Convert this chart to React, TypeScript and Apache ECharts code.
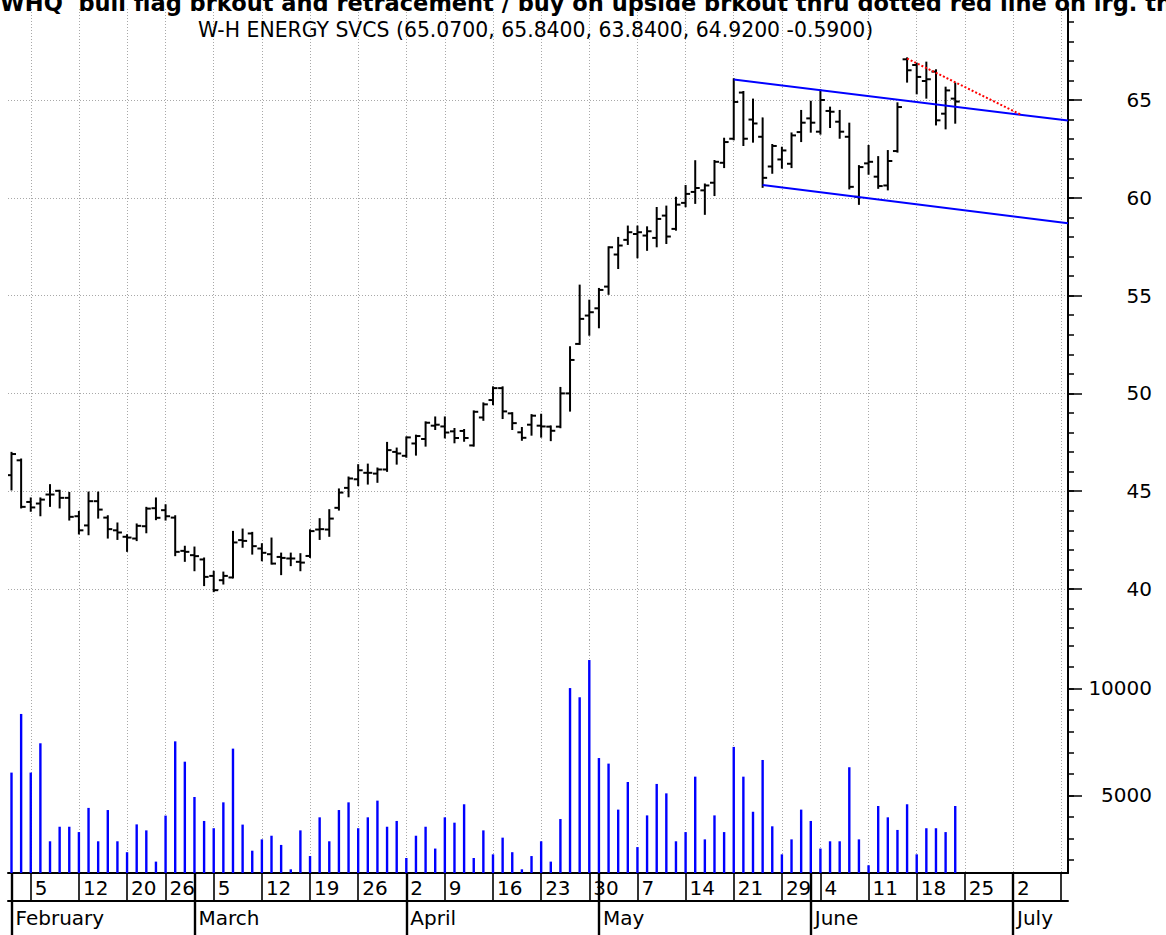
import React, { useEffect, useRef } from 'react';
import * as echarts from 'echarts';

// ---- data (trading-day index 0 = Feb 1) ----
const opens = [45.82, 46.58, 44.45, 44.37, 44.83, 45.02, 44.66, 43.72, 43.25, 44.49,
  43.65, 43.0, 42.67, 42.58, 43.21, 44.13, 44.03, 43.65, 41.95, 41.73,
  41.51, 40.67, 40.45, 40.59, 42.5, 42.84, 42.07, 41.78, 41.64, 41.56,
  41.39, 41.69, 43.04, 43.04, 44.15, 45.17, 45.61, 45.94, 45.9, 46.11,
  47.01, 46.81, 47.44, 47.67, 48.35, 48.31, 48.06, 48.08, 47.34, 48.77,
  49.66, 50.27, 48.98, 48.01, 48.4, 48.35, 48.3, 48.3, 50.0, 52.53,
  53.98, 54.35, 55.46, 57.1, 57.85, 58.15, 58.07, 57.95, 59.09, 58.41,
  59.74, 60.3, 60.38, 60.77, 61.79, 63.02, 65.38, 64.0, 63.12, 61.6,
  61.96, 61.74, 63.36, 64.06, 63.38, 64.44, 63.89, 63.12, 60.05, 61.76,
  61.08, 60.63, 62.39, 67.08, 66.79, 65.97, 66.45, 64.3, 65.07];
const highs = [46.96, 46.62, 44.63, 44.63, 45.31, 45.02, 44.91, 43.94, 44.93, 44.93,
  43.72, 43.35, 42.75, 43.3, 44.15, 44.63, 44.28, 43.72, 42.16, 42.12,
  41.56, 40.88, 40.84, 42.92, 43.04, 42.87, 42.29, 42.58, 41.81, 41.81,
  41.78, 43.0, 43.57, 44.03, 45.09, 45.7, 46.33, 46.36, 46.16, 47.47,
  47.18, 47.75, 47.84, 48.52, 48.77, 48.77, 48.18, 48.13, 49.08, 49.49,
  50.31, 50.31, 48.99, 48.23, 48.89, 48.91, 48.31, 50.28, 52.36, 55.51,
  54.74, 55.34, 57.47, 57.95, 58.53, 58.53, 58.49, 59.48, 59.55, 60.0,
  60.6, 61.87, 60.68, 61.88, 63.02, 66.06, 65.41, 65.02, 64.06, 62.7,
  62.56, 63.29, 64.44, 64.91, 65.49, 64.61, 64.44, 63.79, 61.62, 62.65,
  62.08, 62.39, 64.83, 67.13, 66.86, 66.91, 66.52, 65.63, 65.84];
const lows = [45.09, 44.17, 44.0, 43.77, 44.25, 44.17, 43.55, 42.84, 42.8, 43.65,
  42.63, 42.56, 41.95, 42.5, 42.9, 43.57, 43.55, 41.73, 41.44, 40.96,
  40.2, 39.89, 40.28, 40.59, 42.16, 41.81, 41.47, 41.3, 40.76, 41.22,
  40.96, 41.64, 42.56, 42.72, 44.06, 44.74, 45.31, 45.39, 45.48, 46.04,
  46.41, 46.76, 46.87, 47.33, 48.18, 47.75, 47.5, 47.58, 47.33, 48.65,
  49.45, 48.74, 48.18, 47.63, 47.89, 47.79, 47.61, 48.27, 49.12, 52.53,
  53.0, 53.38, 55.09, 56.41, 57.64, 56.96, 57.34, 57.52, 57.69, 58.37,
  59.57, 59.74, 59.18, 60.14, 61.57, 62.99, 62.7, 62.87, 60.56, 61.28,
  61.54, 61.57, 62.9, 63.38, 63.28, 63.62, 63.07, 60.48, 59.69, 61.23,
  60.51, 60.43, 62.36, 65.94, 65.34, 65.12, 63.75, 63.55, 63.84];
const closes = [46.9, 44.2, 44.17, 44.57, 44.83, 44.66, 43.69, 43.0, 44.49, 44.06,
  43.06, 42.89, 42.63, 43.23, 44.11, 43.64, 43.72, 41.9, 41.9, 41.68,
  40.62, 39.94, 40.67, 42.38, 42.46, 42.19, 41.85, 41.3, 41.59, 41.56,
  41.35, 42.96, 43.06, 43.6, 44.93, 45.65, 46.07, 45.94, 46.11, 47.1,
  46.93, 47.75, 47.82, 48.5, 48.4, 48.0, 47.72, 47.72, 49.06, 49.44,
  50.27, 49.08, 48.48, 47.73, 48.86, 48.31, 48.09, 50.0, 51.71, 53.81,
  54.15, 55.29, 57.47, 57.56, 58.24, 58.24, 58.29, 58.92, 58.02, 59.65,
  60.2, 60.5, 60.63, 61.84, 62.85, 64.9, 63.02, 63.8, 61.02, 62.65,
  62.42, 63.19, 63.84, 63.84, 65.0, 64.4, 63.38, 60.56, 61.57, 61.84,
  60.6, 61.88, 64.64, 66.52, 66.18, 66.06, 63.96, 65.49, 64.92];
const volumes = [6070, 8810, 6070, 7440, 2860, 3540, 3540, 3290, 4420, 2860,
  4320, 2860, 2350, 3650, 3370, 1910, 4060, 7530, 6580, 4930,
  3810, 3470, 4680, 7190, 3640, 2420, 2950, 3120, 2690, 1550,
  3370, 2170, 3980, 2860, 4320, 4680, 3470, 3980, 4760, 3540,
  3810, 2080, 3120, 3540, 2520, 3980, 3730, 4590, 2080, 3370,
  2250, 3030, 2350, 1550, 2170, 2860, 1910, 3900, 10020, 9590,
  11330, 6750, 6490, 4340, 5630, 2590, 4070, 5540, 5100, 2860,
  3290, 5880, 2950, 4070, 3290, 7270, 5880, 4240, 6660, 3560,
  2250, 2950, 4340, 3810, 2520, 2860, 2860, 6320, 2950, 1740,
  4510, 3980, 3390, 4590, 2250, 3470, 3470, 3290, 4510];

const weekStartIdx = [2, 7, 12, 16, 21, 26, 31, 36, 41, 45, 50, 55, 60, 65, 70, 75, 80, 84, 89, 94, 99, 104, 109];
const weekLabels = ['5', '12', '20', '26', '5', '12', '19', '26', '2', '9', '16', '23', '30', '7', '14', '21', '29', '4', '11', '18', '25', '2', ''];
const monthStartIdx = [0, 19, 41, 61, 83, 104];
const monthLabels = ['February', 'March', 'April', 'May', 'June', 'July'];

const priceMinorTicks = [38, 39, 40, 41, 42, 43, 44, 45, 46, 47, 48, 49, 50, 51, 52, 53, 54, 55, 56, 57, 58, 59, 60, 61, 62, 63, 64, 65, 66, 67, 68, 69];
const priceMajorTicks = [40, 45, 50, 55, 60, 65];
const volMinorTicks = [2000, 3000, 4000, 5000, 6000, 7000, 8000, 9000, 10000, 11000, 12000];
const volMajorTicks = [5000, 10000];

const upperChannel = [[75, 66.05], [109.71, 63.95]];
const lowerChannel = [[78, 60.65], [109.71, 58.7]];
const redLine = [[93, 67.12], [104.9, 64.23]];

const mainTitle = 'WHQ  bull flag brkout and retracement / buy on upside brkout thru dotted red line on lrg. th';
const subTitle = 'W-H ENERGY SVCS (65.0700, 65.8400, 63.8400, 64.9200 -0.5900)';

const XMIN = -0.363;
const XMAX = 109.71;
const PMIN = 37.393;
const PMAX = 69.652;
const VMIN = 1378;
const VMAX = 12266;
const FONT = 'DejaVu Sans';
const GRID_COLOR = '#a8a8a8';

export default function App() {
  const ref = useRef<HTMLDivElement>(null);
  useEffect(() => {
    document.body.style.margin = '0';
    const chart = echarts.init(ref.current!, undefined, { renderer: 'svg' });
    const ohlc = opens.map((o, i) => [i, o, highs[i], lows[i], closes[i]]);
    const vol = volumes.map((v, i) => [i, v]);
    const weekMap: Record<string, string> = {};
    weekStartIdx.forEach((d, k) => { weekMap[String(d)] = weekLabels[k]; });
    const monthMap: Record<string, string> = {};
    monthStartIdx.forEach((d, k) => { monthMap[String(d)] = monthLabels[k]; });
    const dotted = { color: GRID_COLOR, width: 1, type: [1, 2] as any };
    const labelFont = { color: '#000', fontFamily: FONT, fontSize: 20 };

    const option: any = {
      animation: false,
      backgroundColor: '#ffffff',
      title: [
        { text: mainTitle, left: 0, top: -8, padding: 0,
          textStyle: { fontFamily: FONT, fontWeight: 'bold', fontSize: 22.5, color: '#000', lineHeight: 22 } },
        { text: subTitle, left: 198, top: 20, padding: 0,
          textStyle: { fontFamily: FONT, fontWeight: 'normal', fontSize: 20.4, color: '#000', lineHeight: 20 } },
      ],
      grid: [
        { left: 8, right: 98, top: 9, height: 631, outerBoundsMode: 'none', containLabel: false },
        { left: 8, right: 98, top: 640, height: 233, outerBoundsMode: 'none', containLabel: false },
      ],
      xAxis: [
        { type: 'value', gridIndex: 0, min: XMIN, max: XMAX, position: 'bottom',
          axisLine: { show: false, onZero: false }, axisTick: { show: false, customValues: weekStartIdx },
          axisLabel: { show: false, customValues: weekStartIdx },
          splitLine: { show: true, lineStyle: dotted } },
        { type: 'value', gridIndex: 1, min: XMIN, max: XMAX, position: 'bottom',
          axisLine: { show: true, onZero: false, lineStyle: { color: '#000', width: 2 } },
          axisTick: { show: true, customValues: weekStartIdx, length: 28, lineStyle: { color: '#000', width: 1.6 } },
          axisLabel: { show: true, customValues: weekStartIdx, formatter: (v: number) => weekMap[String(Math.round(v))] ?? '',
            align: 'left', margin: 5, padding: [0, 0, 0, 4], ...labelFont },
          splitLine: { show: true, lineStyle: dotted } },
        { type: 'value', gridIndex: 1, min: XMIN, max: XMAX, position: 'bottom', offset: 28,
          axisLine: { show: true, onZero: false, lineStyle: { color: '#000', width: 2 } },
          axisTick: { show: true, customValues: monthStartIdx, length: 35, lineStyle: { color: '#000', width: 2.4 } },
          axisLabel: { show: true, customValues: monthStartIdx, formatter: (v: number) => monthMap[String(Math.round(v))] ?? '',
            align: 'left', margin: 7, padding: [0, 0, 0, 4], ...labelFont },
          splitLine: { show: false } },
        { type: 'value', gridIndex: 1, min: XMIN, max: XMAX, position: 'bottom', offset: 0,
          axisLine: { show: false, onZero: false },
          axisTick: { show: true, customValues: monthStartIdx, length: 28, lineStyle: { color: '#000', width: 2.4 } },
          axisLabel: { show: false }, splitLine: { show: false } },
      ],
      yAxis: [
        { type: 'value', gridIndex: 0, min: PMIN, max: PMAX, position: 'right',
          axisLine: { show: true, onZero: false, lineStyle: { color: '#000', width: 2 } },
          axisTick: { show: true, customValues: priceMajorTicks, length: 14, lineStyle: { color: '#000', width: 1.5 } },
          axisLabel: { show: true, customValues: priceMajorTicks, align: 'right', margin: 84, ...labelFont },
          splitLine: { show: true, lineStyle: dotted } },
        { type: 'value', gridIndex: 0, min: PMIN, max: PMAX, position: 'right',
          axisLine: { show: false, onZero: false },
          axisTick: { show: true, customValues: priceMinorTicks, length: 6, lineStyle: { color: '#000', width: 1.5 } },
          axisLabel: { show: false }, splitLine: { show: false } },
        { type: 'value', gridIndex: 1, min: VMIN, max: VMAX, position: 'right',
          axisLine: { show: true, onZero: false, lineStyle: { color: '#000', width: 2 } },
          axisTick: { show: true, customValues: volMajorTicks, length: 14, lineStyle: { color: '#000', width: 1.5 } },
          axisLabel: { show: true, customValues: volMajorTicks, align: 'right', margin: 84,
            formatter: (v: number) => String(Math.round(v)), ...labelFont },
          splitLine: { show: false } },
        { type: 'value', gridIndex: 1, min: VMIN, max: VMAX, position: 'right',
          axisLine: { show: false, onZero: false },
          axisTick: { show: true, customValues: volMinorTicks, length: 6, lineStyle: { color: '#000', width: 1.5 } },
          axisLabel: { show: false }, splitLine: { show: false } },
      ],
      series: [
        {
          type: 'custom', name: 'WHQ', xAxisIndex: 0, yAxisIndex: 0, data: ohlc,
          encode: { x: 0, y: [1, 2, 3, 4] }, clip: true,
          renderItem: (params: any, api: any) => {
            const x = api.value(0);
            const ph = api.coord([x, api.value(2)]);
            const pl = api.coord([x, api.value(3)]);
            const po = api.coord([x, api.value(1)]);
            const pc = api.coord([x, api.value(4)]);
            const st = { stroke: '#000', lineWidth: 2 };
            return {
              type: 'group',
              children: [
                { type: 'line', shape: { x1: ph[0], y1: ph[1] - 1, x2: pl[0], y2: pl[1] + 1 }, style: st },
                { type: 'line', shape: { x1: po[0] - 4.5, y1: po[1], x2: po[0], y2: po[1] }, style: st },
                { type: 'line', shape: { x1: pc[0], y1: pc[1], x2: pc[0] + 4.5, y2: pc[1] }, style: st },
              ],
            };
          },
        },
        { type: 'line', xAxisIndex: 0, yAxisIndex: 0, data: upperChannel, symbol: 'none',
          lineStyle: { color: '#0000ff', width: 2 } },
        { type: 'line', xAxisIndex: 0, yAxisIndex: 0, data: lowerChannel, symbol: 'none',
          lineStyle: { color: '#0000ff', width: 2 } },
        { type: 'line', xAxisIndex: 0, yAxisIndex: 0, data: redLine, symbol: 'none',
          lineStyle: { color: '#ff0000', width: 2, type: [2, 2] } },
        { type: 'bar', name: 'Volume', xAxisIndex: 1, yAxisIndex: 2, data: vol, barWidth: 2.4,
          itemStyle: { color: '#0000ff' } },
      ],
    };
    chart.setOption(option);
    return () => chart.dispose();
  }, []);
  return <div ref={ref} style={{ width: 1166, height: 935 }} />;
}
